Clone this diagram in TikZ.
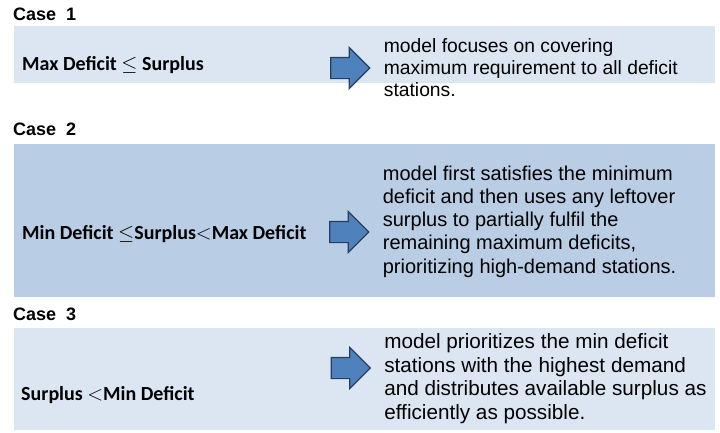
\documentclass[tikz,border=0pt]{standalone}
\usepackage{fontspec}
\usetikzlibrary{shapes.arrows,positioning}
\newfontfamily\arialfont{Liberation Sans}
\newfontfamily\calibrifont{Carlito}
\definecolor{bandlight}{HTML}{DCE6F2}
\definecolor{banddark}{HTML}{B9CDE5}
\definecolor{arrowfill}{HTML}{4F81BD}
\definecolor{arrowline}{HTML}{243F60}

\begin{document}
\begin{tikzpicture}
 [x=1pt,y=-1pt,
% Band style
    band/.style={rectangle,anchor=north west,inner sep=0pt,
        minimum width=701pt},
% Label styles
    case/.style={anchor=base west,inner sep=0pt,
        font=\arialfont\bfseries\fontsize{18}{21}\selectfont},
    cond/.style={anchor=base west,inner sep=0pt,
        font=\calibrifont\bfseries\fontsize{20}{24}\selectfont},
    result/.style={anchor=west,inner sep=0pt,align=left,
        font=\arialfont\fontsize{20}{23.3}\selectfont},
% Arrow style
    pointer/.style={single arrow,draw=arrowline,fill=arrowfill,
        line width=1.2pt,inner sep=10pt,minimum height=39pt,
        single arrow head extend=10pt}
    ]
\useasboundingbox (0,0) rectangle (720,432);
%% Draw bands
 \node (b1) [band,fill=bandlight,minimum height=57pt]  at (14,26)  {};
 \node (b2) [band,fill=banddark,minimum height=153pt]  at (14,144) {};
 \node (b3) [band,fill=bandlight,minimum height=102pt] at (14,328) {};
%% Case titles
 \node (c1) [case] at (13,20)  {Case~~1};
 \node (c2) [case] at (13,135) {Case~~2};
 \node (c3) [case] at (13,320) {Case~~3};
%% Conditions
 \node (d1) [cond] at (22,70)  {Max Deficit $\leq$ Surplus};
 \node (d2) [cond] at (22,239) {Min Deficit $\leq$Surplus$<$Max Deficit};
 \node (d3) [cond] at (21,400) {Surplus $<$Min Deficit};
%% Arrows and outcomes
 \node (arr1) [pointer] at (345,68)    {};
 \node (arr2) [pointer] at (344,232)   {};
 \node (arr3) [pointer] at (345.5,368) {};
 \node (r1) [result,right=13pt of arr1,
    font=\arialfont\fontsize{19.3}{22}\selectfont]
    {model focuses on covering\\maximum requirement to all deficit\\stations.};
 \node (r2) [result,right=13pt of arr2,yshift=10.5pt]
    {model first satisfies the minimum\\deficit and then uses any leftover\\
     surplus to partially fulfil the\\remaining maximum deficits,\\
     prioritizing high-demand stations.};
 \node (r3) [result,right=13pt of arr3,yshift=-10.5pt,
    font=\arialfont\fontsize{20.7}{23.7}\selectfont]
    {model prioritizes the min deficit\\stations with the highest demand\\
     and distributes available surplus as\\efficiently as possible.};
\end{tikzpicture}
\end{document}
